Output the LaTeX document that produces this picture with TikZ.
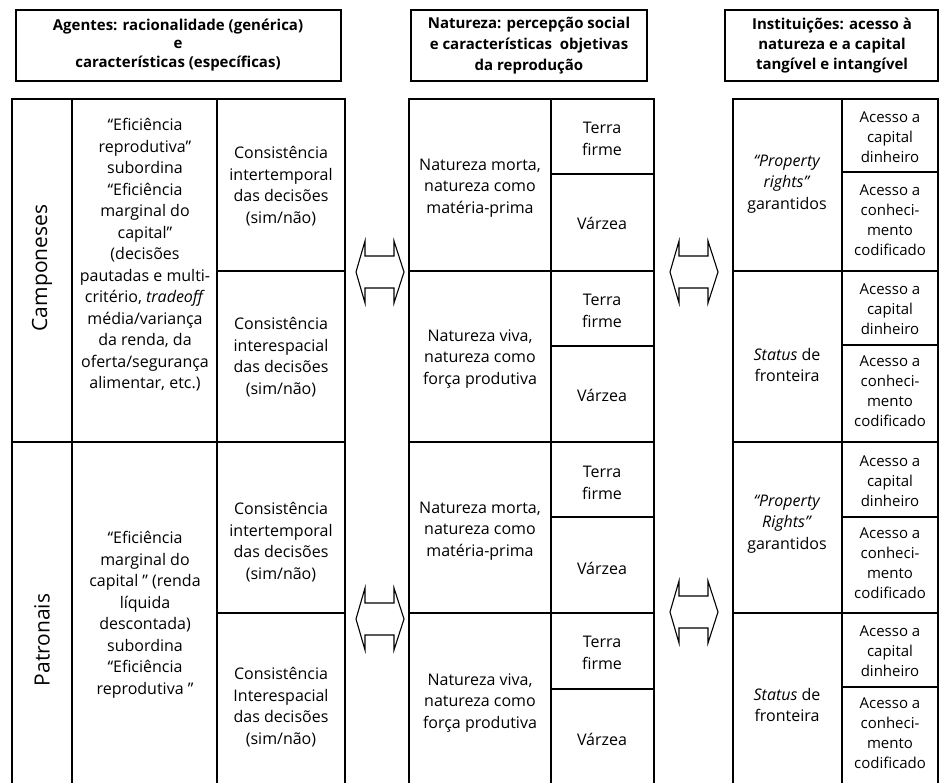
\documentclass[tikz,border=0pt]{standalone}
\usepackage{fontspec}
\setmainfont{Open Sans}
\begin{document}
\begin{tikzpicture}[x=1pt,y=-1pt,line width=1.1pt,
  grid/.style={draw=black,line width=1.1pt},
  hdrbox/.style={draw=black,line width=1.1pt},
  hdr/.style={align=center,inner sep=0pt,font=\bfseries\fontsize{15}{18.5}\selectfont},
  cell/.style={align=center,inner sep=0pt,font=\fontsize{16}{21.5}\selectfont},
  acc/.style={align=center,inner sep=0pt,font=\fontsize{15}{20}\selectfont},
  side/.style={inner sep=0pt,rotate=90,font=\fontsize{21}{25}\selectfont},
  dbl/.style={draw=black,line width=1.1pt,line join=miter}]
\useasboundingbox (0,0) rectangle (939,783);
\newcommand{\darrow}[2]{%
  \draw[dbl] (#1-24,#2) -- (#1-15,#2-31) -- (#1-15,#2-16) -- (#1+14,#2-16)
    -- (#1+14,#2-31) -- (#1+24,#2) -- (#1+14,#2+31) -- (#1+14,#2+16)
    -- (#1-15,#2+16) -- (#1-15,#2+31) -- cycle;}

% header boxes
\draw[hdrbox] (16,10) rectangle (341,81);
\draw[hdrbox] (411,10) rectangle (647,81);
\draw[hdrbox] (725,10) rectangle (938,81);
\node[hdr] (h1) at (178,45) {Agentes: racionalidade (genérica)\\e\\características (específicas)};
\node[hdr,font=\bfseries\fontsize{15}{21}\selectfont] (h2) at (529,46) {Natureza: percepção social\\e características \ objetivas\\da reprodução};
\node[hdr,font=\bfseries\fontsize{15}{20}\selectfont] (h3) at (832,46) {Instituições: acesso à\\natureza e a capital\\tangível e intangível};

% left table
\draw[grid] (12,783) -- (12,99) -- (345,99) -- (345,783);
\draw[grid] (72,99) -- (72,783);
\draw[grid] (217,99) -- (217,783);
\draw[grid] (12,442) -- (345,442);
\draw[grid] (217,271) -- (345,271);
\draw[grid] (217,613) -- (345,613);

% middle table
\draw[grid] (409,783) -- (409,99) -- (654,99) -- (654,783);
\draw[grid] (551,99) -- (551,783);
\draw[grid] (409,271) -- (654,271);
\draw[grid] (409,442) -- (654,442);
\draw[grid] (409,613) -- (654,613);
\draw[grid] (551,174) -- (654,174);
\draw[grid] (551,346) -- (654,346);
\draw[grid] (551,517) -- (654,517);
\draw[grid] (551,689) -- (654,689);

% right table
\draw[grid] (733,783) -- (733,99) -- (938,99) -- (938,783);
\draw[grid] (842,99) -- (842,783);
\draw[grid] (733,271) -- (938,271);
\draw[grid] (733,442) -- (938,442);
\draw[grid] (733,613) -- (938,613);
\draw[grid] (842,172) -- (938,172);
\draw[grid] (842,345) -- (938,345);
\draw[grid] (842,517) -- (938,517);
\draw[grid] (842,687) -- (938,687);

% arrows
\darrow{380}{272}
\darrow{694}{272}
\darrow{380}{619}
\darrow{694}{612}

% left table texts
\node[side] (camp) at (42,268) {Camponeses};
\node[side] (patr) at (42,640) {Patronais};
\node[cell] (ec) at (145,255) {“Eficiência\\reprodutiva”\\subordina\\“Eficiência\\marginal do\\capital”\\(decisões\\pautadas e multi-\\critério, \textit{tradeoff}\\média/variança\\da renda, da\\oferta/segurança\\alimentar, etc.)};
\node[cell] (ep) at (145,615) {“Eficiência\\marginal do\\capital ” (renda\\líquida\\descontada)\\subordina\\“Eficiência\\reprodutiva ”};
\node[cell] (c1) at (281,186) {Consistência\\intertemporal\\das decisões\\(sim/não)};
\node[cell] (c2) at (281,357) {Consistência\\interespacial\\das decisões\\(sim/não)};
\node[cell] (c3) at (281,542) {Consistência\\intertemporal\\das decisões\\(sim/não)};
\node[cell] (c4) at (281,707) {Consistência\\Interespacial\\das decisões\\(sim/não)};

% middle table texts
\node[cell] (n1) at (480,188) {Natureza morta,\\natureza como\\matéria-prima};
\node[cell] (n2) at (480,359) {Natureza viva,\\natureza como\\força produtiva};
\node[cell] (n3) at (480,531) {Natureza morta,\\natureza como\\matéria-prima};
\node[cell] (n4) at (480,703) {Natureza viva,\\natureza como\\força produtiva};
\node[cell] (t1) at (602,139) {Terra\\firme};
\node[cell] (v1) at (602,223) {Várzea};
\node[cell] (t2) at (602,311) {Terra\\firme};
\node[cell] (v2) at (602,395) {Várzea};
\node[cell] (t3) at (602,483) {Terra\\firme};
\node[cell] (v3) at (602,568) {Várzea};
\node[cell] (t4) at (602,653) {Terra\\firme};
\node[cell] (v4) at (602,739) {Várzea};

% right table texts
\node[cell] (p1) at (787,184) {\textit{“Property}\\\textit{rights”}\\garantidos};
\node[cell] (s1) at (787,365) {\textit{Status} de\\fronteira};
\node[cell] (p2) at (787,524) {\textit{“Property}\\\textit{Rights”}\\garantidos};
\node[cell] (s2) at (787,705) {\textit{Status} de\\fronteira};
\node[acc] (a1) at (890,137) {Acesso a\\capital\\dinheiro};
\node[acc] (k1) at (890,220) {Acesso a\\conheci-\\mento\\codificado};
\node[acc] (a2) at (890,309) {Acesso a\\capital\\dinheiro};
\node[acc] (k2) at (890,391) {Acesso a\\conheci-\\mento\\codificado};
\node[acc] (a3) at (890,481) {Acesso a\\capital\\dinheiro};
\node[acc] (k3) at (890,563) {Acesso a\\conheci-\\mento\\codificado};
\node[acc] (a4) at (890,651) {Acesso a\\capital\\dinheiro};
\node[acc] (k4) at (890,733) {Acesso a\\conheci-\\mento\\codificado};
\end{tikzpicture}
\end{document}
